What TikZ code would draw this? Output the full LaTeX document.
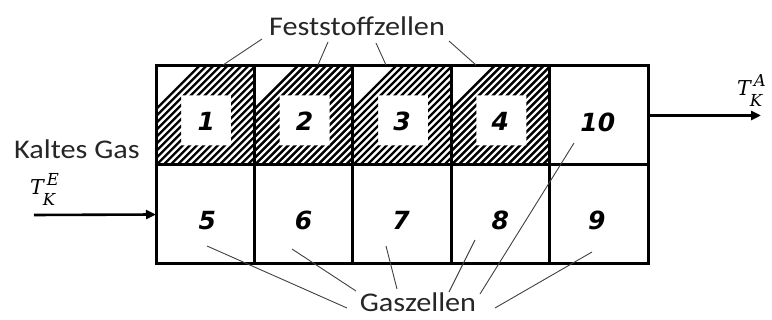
\documentclass[tikz,border=0pt]{standalone}
\usepackage{fontspec}
\setmainfont{Carlito}
\newfontfamily\lblfont{Carlito}[FakeStretch=1.12]
\newfontfamily\mfont{DejaVu Serif}
\newfontfamily\numfont{DejaVu Sans}[BoldFont={DejaVu Sans Bold},ItalicFont={DejaVu Sans Oblique},BoldItalicFont={DejaVu Sans Bold Oblique}]
\usetikzlibrary{arrows.meta,calc}
% gas temperature symbol T with subscript K and a given superscript
\newcommand\gastemp[1]{{\mfont\itshape\fontsize{20.5}{24}\selectfont T\kern-1pt%
  \makebox[0pt][l]{\raisebox{-11pt}{\fontsize{16.5}{17}\selectfont K}}\kern4pt%
  \raisebox{9pt}{\fontsize{16.5}{17}\selectfont #1}}}
\tikzset{
  cell/.style={draw,line width=3pt,minimum width=98.4pt,minimum height=99pt,inner sep=0pt,outer sep=0pt},
  num/.style={font=\numfont\bfseries\itshape\fontsize{25}{29}\selectfont,inner sep=0pt},
  lbl/.style={font=\lblfont\fontsize{27}{30}\selectfont,inner sep=0pt,text=black!85},
  temp/.style={inner sep=0pt,anchor=base west},
  leader/.style={line width=0.9pt,black!75},
  flow/.style={line width=2.6pt,-{Triangle[length=10pt,width=9pt]}},
  hatch/.style={line width=2.4pt}
}
\begin{document}
\begin{tikzpicture}[x=1pt,y=-1pt]
\useasboundingbox (0,0) rectangle (772,320);

% cells: top row 1-4 (solid) and 10, bottom row 5-9 (gas)
\foreach \n/\cx/\cy in {1/205.2/115.5,2/303.6/115.5,3/402.0/115.5,4/500.4/115.5,10/598.8/115.5,
                        5/205.2/214.5,6/303.6/214.5,7/402.0/214.5,8/500.4/214.5,9/598.8/214.5}
  \node[cell] (c\n) at (\cx,\cy) {};

% hatching of the solid cells, leaving a white square in the middle
\foreach \n in {1,2,3,4} {
  \begin{scope}[even odd rule]
    \clip (c\n.south west) rectangle (c\n.north east)
      ($(c\n.center)+(-24,-20)$) rectangle ($(c\n.center)+(26,30)$);
    \foreach \d in {-105,-98,...,105}
      \draw[hatch] ($(c\n.south)+(\d,0)$) -- ++(100,-100);
  \end{scope}
}
% redraw borders over the hatching
\foreach \n in {1,2,3,4}
  \draw[line width=3pt] (c\n.south west) rectangle (c\n.north east);

% cell numbers
\foreach \n/\dx/\dy in {1/1/6,2/1/6,3/0/6,4/0/6,10/-1/7,5/2/6,6/0/6,7/-1/6,8/0/6,9/-2/6}
  \node[num] (n\n) at ($(c\n.center)+(\dx,\dy)$) {\n};

% labels
\node[lbl] (solid) at (357,26) {Feststoffzellen};
\node[lbl] (gas) at (418,302) {Gaszellen};
\node[lbl] (cold) at (77,149) {Kaltes Gas};
\node[temp] (tin) at (30,195) {\gastemp{E}};
\node[temp] (tout) at (737,96) {\gastemp{A}};

% flow arrows
\coordinate (inflow) at (34,215);
\draw[flow] (inflow) -- (c5.west);
\draw[flow] (c10.east) -- ++(113,0) coordinate (outflow);

% leaders from Feststoffzellen
\coordinate (s1) at (262,39); \coordinate (t1) at (223,65);
\coordinate (s2) at (328,42); \coordinate (t2) at (318,65);
\coordinate (s3) at (376,43); \coordinate (t3) at (386,65);
\coordinate (s4) at (449,41); \coordinate (t4) at (476,65);
\foreach \i in {1,2,3,4} \draw[leader] (s\i) -- (t\i);

% leaders to Gaszellen
\coordinate (g5) at (207,246);  \coordinate (h5) at (347,308);
\coordinate (g6) at (292,249);  \coordinate (h6) at (356,291);
\coordinate (g7) at (386,246);  \coordinate (h7) at (397,289);
\coordinate (g8) at (475,240);  \coordinate (h8) at (449,292);
\coordinate (g10) at (574,143); \coordinate (h10) at (480,294);
\coordinate (g9) at (592,252);  \coordinate (h9) at (495,308);
\foreach \i in {5,6,7,8,10,9} \draw[leader] (g\i) -- (h\i);
\end{tikzpicture}
\end{document}
